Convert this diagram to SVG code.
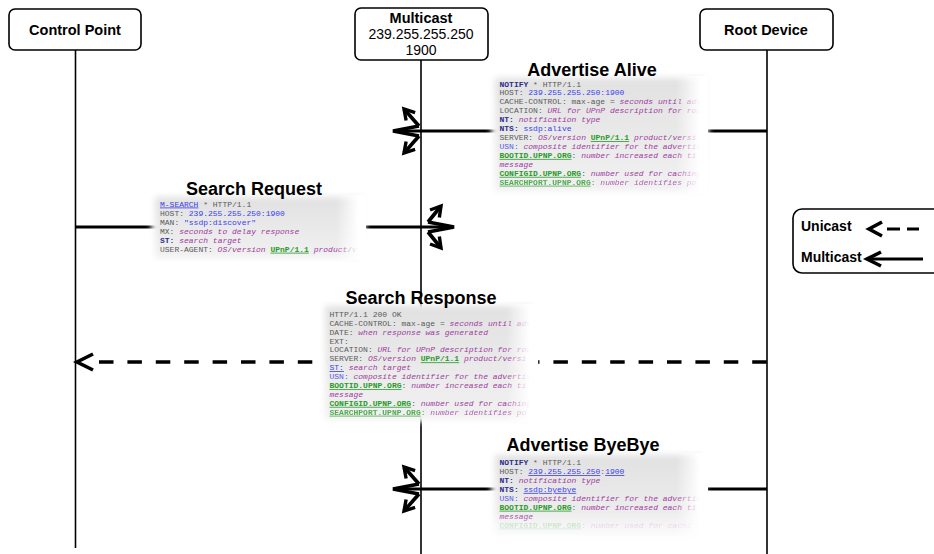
<svg xmlns="http://www.w3.org/2000/svg" width="934" height="554" viewBox="0 0 934 554">
<defs>
<style>
.hdr{fill:#fff;stroke:#000;stroke-width:1.6}
.ht{font-family:"Liberation Sans",Arial,sans-serif;font-size:14.5px;font-weight:bold;fill:#000;text-anchor:middle}
.hn{font-family:"Liberation Sans",Arial,sans-serif;font-size:14px;fill:#000;text-anchor:middle}
.lt{font-family:"Liberation Sans",Arial,sans-serif;font-size:14px;font-weight:bold;fill:#000}
.ttl{font-family:"Liberation Sans",Arial,sans-serif;font-size:18px;font-weight:bold;fill:#000;text-anchor:middle}
.life{stroke:#000;stroke-width:1.6;fill:none}
.msg{stroke:#000;stroke-width:3.2;fill:none}
.dash{stroke:#000;stroke-width:3.5;fill:none;stroke-dasharray:14.5 13.9}
.head{stroke:#000;stroke-width:3.6;fill:none;stroke-linejoin:miter}
.cover{fill:#fff}
.bg{fill:url(#shade)}
.m{font-family:"Liberation Mono","Courier New",monospace;font-size:8px;fill:#5a5a5a}
.kb{fill:#2e2e8a;font-weight:bold}
.v{fill:#3c3cf0}
.u{fill:#3c3cf0;text-decoration:underline}
.i{fill:#a03ca0;font-style:italic}
.g{fill:#2a9a2a;font-weight:bold;text-decoration:underline}
.usn{fill:#5a5ae6}
</style>
<filter id="soft" x="-20%" y="-30%" width="140%" height="160%"><feGaussianBlur stdDeviation="3"/></filter>
<linearGradient id="shade" x1="0" y1="0" x2="0" y2="1"><stop offset="0" stop-color="#e1e1e1"/><stop offset="1" stop-color="#f1f1f1"/></linearGradient>
<linearGradient id="fadeR" x1="0" y1="0" x2="1" y2="0"><stop offset="0" stop-color="#fff" stop-opacity="0"/><stop offset="0.75" stop-color="#fff" stop-opacity="1"/></linearGradient>
<linearGradient id="fadeB" x1="0" y1="0" x2="0" y2="1"><stop offset="0" stop-color="#fff" stop-opacity="0"/><stop offset="1" stop-color="#fff" stop-opacity="0.9"/></linearGradient>
<marker id="barb" markerUnits="userSpaceOnUse" markerWidth="20" markerHeight="20" refX="10" refY="6" orient="auto" overflow="visible"><path d="M0,0 L10,6 L0,12" fill="none" stroke="#000" stroke-width="3.4"/></marker>
</defs>
<rect width="934" height="554" fill="#fff"/>

<g id="control-point">
<rect class="hdr" x="9" y="9" width="132" height="41" rx="6"/>
<text class="ht" x="75" y="35">Control Point</text>
</g>
<g id="multicast">
<rect class="hdr" x="355" y="8" width="133" height="52" rx="6"/>
<text class="ht" x="421" y="22.5">Multicast</text>
<text class="hn" x="421" y="39">239.255.255.250</text>
<text class="hn" x="421" y="55">1900</text>
</g>
<g id="root-device">
<rect class="hdr" x="700" y="9" width="133" height="41" rx="6"/>
<text class="ht" x="766" y="35">Root Device</text>
</g>

<g id="connectors">
<path class="life" d="M75.5,50 V548"/>
<path class="life" d="M421,60 V554"/>
<path class="life" d="M767,50 V554"/>
<path class="msg" d="M767,131 H395"/>
<path class="head" d="M419,126 L393,131 L419,136"/>
<path class="head" d="M419,126 L404,109" marker-end="url(#barb)"/>
<path class="head" d="M419,136 L404,153" marker-end="url(#barb)"/>
<path class="msg" d="M75,227 H452"/>
<path class="head" d="M428,222 L454,227 L428,232"/>
<path class="head" d="M428,222 L441,206" marker-end="url(#barb)"/>
<path class="head" d="M428,232 L441,248" marker-end="url(#barb)"/>
<path class="dash" d="M99,362 H767"/>
<path class="head" d="M93,354 L77,362 L93,370"/>
<path class="msg" d="M767,489 H395"/>
<path class="head" d="M419,484 L393,489 L419,494"/>
<path class="head" d="M419,484 L404,467" marker-end="url(#barb)"/>
<path class="head" d="M419,494 L404,511" marker-end="url(#barb)"/>
</g>

<g id="advertise-alive">
<rect class="cover" x="492" y="76" width="216" height="117" filter="url(#soft)"/>
<rect class="bg" x="495" y="78" width="210" height="113" filter="url(#soft)"/>
<text class="ttl" x="592" y="76">Advertise Alive</text>
<text class="m" x="499.5" y="86.5"><tspan class="kb">NOTIFY</tspan> * HTTP/1.1</text>
<text class="m" x="499.5" y="95.4">HOST: <tspan class="v">239.255.255.250:1900</tspan></text>
<text class="m" x="499.5" y="104.4">CACHE-CONTROL: max-age = <tspan class="i">seconds until adv</tspan></text>
<text class="m" x="499.5" y="113.3">LOCATION: <tspan class="i">URL for UPnP description for roo</tspan></text>
<text class="m" x="499.5" y="122.2"><tspan class="kb">NT:</tspan> <tspan class="i">notification type</tspan></text>
<text class="m" x="499.5" y="131.2"><tspan class="kb">NTS:</tspan> <tspan class="v">ssdp:alive</tspan></text>
<text class="m" x="499.5" y="140.1">SERVER: <tspan class="i">OS</tspan>/<tspan class="i">version</tspan> <tspan class="g">UPnP/1.1</tspan> <tspan class="i">product</tspan>/<tspan class="i">versi</tspan></text>
<text class="m" x="499.5" y="149"><tspan class="usn">USN:</tspan> <tspan class="i">composite identifier for the advertis</tspan></text>
<text class="m" x="499.5" y="157.9"><tspan class="g">BOOTID.UPNP.ORG</tspan>: <tspan class="i">number increased each ti</tspan></text>
<text class="m" x="499.5" y="166.9"><tspan class="i">message</tspan></text>
<text class="m" x="499.5" y="175.8"><tspan class="g">CONFIGID.UPNP.ORG</tspan>: <tspan class="i">number used for caching</tspan></text>
<text class="m" x="499.5" y="184.7" opacity="0.8"><tspan class="g">SEARCHPORT.UPNP.ORG</tspan>: <tspan class="i">number identifies po</tspan></text>
<rect x="676" y="76" width="32" height="118" fill="url(#fadeR)"/>
</g>

<g id="search-request">
<rect class="cover" x="152" y="195" width="213" height="65" filter="url(#soft)"/>
<rect class="bg" x="155" y="197" width="207" height="61" filter="url(#soft)"/>
<text class="ttl" x="254" y="195">Search Request</text>
<text class="m" x="160" y="206.5"><tspan class="u">M-SEARCH</tspan> * HTTP/1.1</text>
<text class="m" x="160" y="215.5">HOST: <tspan class="v">239.255.255.250:1900</tspan></text>
<text class="m" x="160" y="224.6">MAN: <tspan class="v">"ssdp:discover"</tspan></text>
<text class="m" x="160" y="233.6">MX: <tspan class="i">seconds to delay response</tspan></text>
<text class="m" x="160" y="242.7"><tspan class="kb">ST:</tspan> <tspan class="i">search target</tspan></text>
<text class="m" x="160" y="251.7">USER-AGENT: <tspan class="i">OS</tspan>/<tspan class="i">version</tspan> <tspan class="g">UPnP/1.1</tspan> <tspan class="i">product</tspan>/<tspan class="i">ve</tspan></text>
<rect x="336" y="195" width="30" height="65" fill="url(#fadeR)"/>
</g>

<g id="search-response">
<rect class="cover" x="322" y="304" width="213" height="117" filter="url(#soft)"/>
<rect class="bg" x="325" y="306" width="207" height="113" filter="url(#soft)"/>
<text class="ttl" x="421" y="303.5">Search Response</text>
<text class="m" x="329.5" y="316.8">HTTP/1.1 200 OK</text>
<text class="m" x="329.5" y="325.7">CACHE-CONTROL: max-age = <tspan class="i">seconds until adv</tspan></text>
<text class="m" x="329.5" y="334.6">DATE: <tspan class="i">when response was generated</tspan></text>
<text class="m" x="329.5" y="343.5">EXT:</text>
<text class="m" x="329.5" y="352.4">LOCATION: <tspan class="i">URL for UPnP description for roo</tspan></text>
<text class="m" x="329.5" y="361.3">SERVER: <tspan class="i">OS</tspan>/<tspan class="i">version</tspan> <tspan class="g">UPnP/1.1</tspan> <tspan class="i">product</tspan>/<tspan class="i">versi</tspan></text>
<text class="m" x="329.5" y="370.2"><tspan class="u">ST:</tspan> <tspan class="i">search target</tspan></text>
<text class="m" x="329.5" y="379.1"><tspan class="usn">USN:</tspan> <tspan class="i">composite identifier for the advertis</tspan></text>
<text class="m" x="329.5" y="388"><tspan class="g">BOOTID.UPNP.ORG</tspan>: <tspan class="i">number increased each ti</tspan></text>
<text class="m" x="329.5" y="396.9"><tspan class="i">message</tspan></text>
<text class="m" x="329.5" y="405.8"><tspan class="g">CONFIGID.UPNP.ORG</tspan>: <tspan class="i">number used for caching</tspan></text>
<text class="m" x="329.5" y="414.7" opacity="0.8"><tspan class="g">SEARCHPORT.UPNP.ORG</tspan>: <tspan class="i">number identifies po</tspan></text>
<rect x="506" y="304" width="32" height="118" fill="url(#fadeR)"/>
</g>

<g id="advertise-byebye">
<rect class="cover" x="492" y="453" width="213" height="90" filter="url(#soft)"/>
<rect class="bg" x="495" y="455" width="207" height="82" filter="url(#soft)"/>
<text class="ttl" x="583" y="451">Advertise ByeBye</text>
<text class="m" x="499.5" y="465.2"><tspan class="kb">NOTIFY</tspan> * HTTP/1.1</text>
<text class="m" x="499.5" y="474.1">HOST: <tspan class="u">239.255.255.250</tspan>:<tspan class="u">1900</tspan></text>
<text class="m" x="499.5" y="483"><tspan class="kb">NT:</tspan> <tspan class="i">notification type</tspan></text>
<text class="m" x="499.5" y="491.9"><tspan class="kb">NTS:</tspan> <tspan class="u">ssdp:byebye</tspan></text>
<text class="m" x="499.5" y="500.8"><tspan class="usn">USN:</tspan> <tspan class="i">composite identifier for the advertis</tspan></text>
<text class="m" x="499.5" y="509.7"><tspan class="g">BOOTID.UPNP.ORG</tspan>: <tspan class="i">number increased each ti</tspan></text>
<text class="m" x="499.5" y="518.6"><tspan class="i">message</tspan></text>
<text class="m" x="499.5" y="527.5" opacity="0.3"><tspan class="g">CONFIGID.UPNP.ORG</tspan>: <tspan class="i">number used for cachi</tspan></text>
<rect x="492" y="512" width="216" height="30" fill="url(#fadeB)"/>
<rect x="676" y="453" width="32" height="90" fill="url(#fadeR)"/>
</g>

<g id="legend">
<rect x="793" y="209" width="170" height="64" rx="9" fill="#fff" stroke="#000" stroke-width="1.6"/>
<text class="lt" x="801" y="231">Unicast</text>
<path class="head" d="M882,222 L869,229 L882,236"/>
<path class="msg" d="M887,229 H900 M907,229 H919"/>
<text class="lt" x="801" y="262">Multicast</text>
<path class="head" d="M881,252 L867,259 L881,266"/>
<path class="msg" d="M869,259 H923"/>
</g>
</svg>
